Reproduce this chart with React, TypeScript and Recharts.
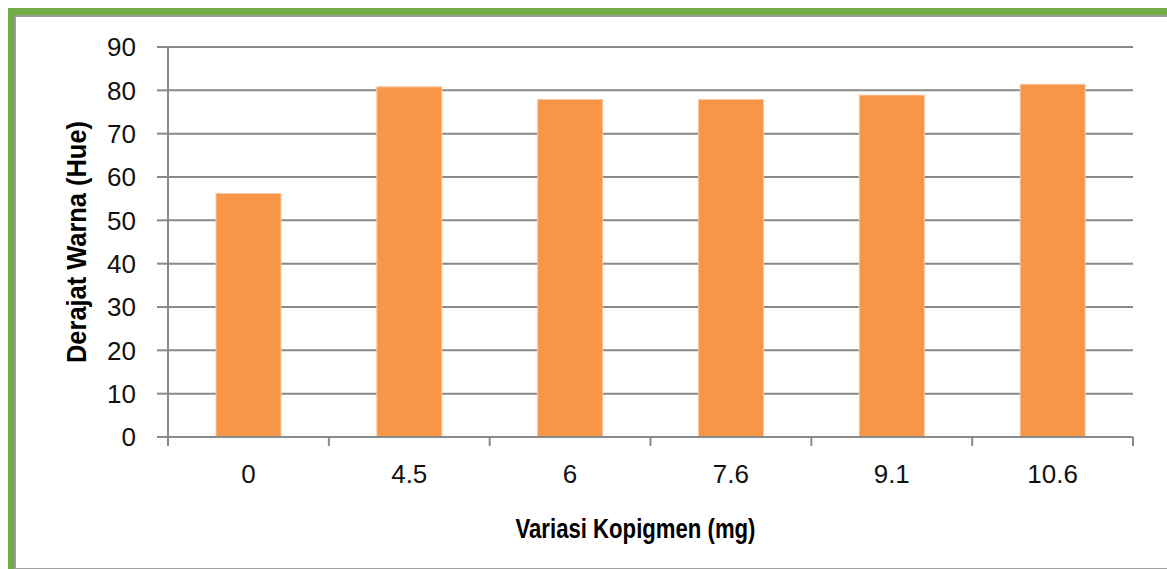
import { BarChart, Bar, XAxis, YAxis, CartesianGrid, Label } from 'recharts'

const categories = ['0', '4.5', '6', '7.6', '9.1', '10.6']
const hueValues = [56.2, 80.8, 77.9, 77.9, 78.9, 81.4]
const yTicks = [0, 10, 20, 30, 40, 50, 60, 70, 80, 90]

const data = categories.map((c, i) => ({ kopigmen: c, hue: hueValues[i] }))

const GRID = '#898989'
const ORANGE = '#F79646'
const GREEN = '#70AD47'
const FONT = "'Liberation Sans', Arial, sans-serif"
const X_TICK = 9

function CategoryTick(props: any) {
  const { x, y, payload, index, visibleTicksCount } = props
  const half = payload?.offset || (1133 - 168) / 6 / 2
  const axisY = y - X_TICK
  const last = index === visibleTicksCount - 1
  return (
    <g>
      <line x1={x - half} x2={x - half} y1={axisY} y2={axisY + X_TICK} stroke={GRID} strokeWidth={2} />
      {last && <line x1={x + half} x2={x + half} y1={axisY} y2={axisY + X_TICK} stroke={GRID} strokeWidth={2} />}
      <text x={x} y={axisY + 46} textAnchor="middle" fill="#111" fontSize={26} fontFamily={FONT}>
        {payload.value}
      </text>
    </g>
  )
}

function YTitle(props: any) {
  const { viewBox } = props
  const cx = 76
  const cy = viewBox.y + viewBox.height / 2
  return (
    <text x={cx} y={cy} transform={`rotate(-90 ${cx} ${cy})`} textAnchor="middle" dominantBaseline="central"
      fontSize={28} fontWeight="bold" fontFamily={FONT} fill="#000" textLength={242} lengthAdjust="spacingAndGlyphs">
      Derajat Warna (Hue)
    </text>
  )
}

function XTitle(props: any) {
  const { viewBox } = props
  const cx = viewBox.x + viewBox.width / 2 - 15
  return (
    <text x={cx} y={528} textAnchor="middle" dominantBaseline="central"
      fontSize={28} fontWeight="bold" fontFamily={FONT} fill="#000" textLength={240} lengthAdjust="spacingAndGlyphs">
      Variasi Kopigmen (mg)
    </text>
  )
}

export default function App() {
  return (
    <div style={{ position: 'absolute', left: 0, top: 0, width: 1167, height: 569, background: '#fff', overflow: 'hidden' }}>
      {/* green frame, top and left, with thin gray inner edge */}
      <div style={{ position: 'absolute', left: 8, top: 8, right: 0, height: 7, background: GREEN }} />
      <div style={{ position: 'absolute', left: 8, top: 8, width: 7, bottom: 0, background: GREEN }} />
      <div style={{ position: 'absolute', left: 15, top: 15, right: 0, height: 1.5, background: '#9a9a9a' }} />
      <div style={{ position: 'absolute', left: 14, top: 15, width: 1.5, bottom: 0, background: '#9a9a9a' }} />
      <div style={{ position: 'absolute', left: 15, bottom: 0, right: 0, height: 1, background: '#a0a0a0' }} />
      <div style={{ position: 'absolute', left: 0, top: 0 }}>
        <BarChart width={1167} height={569} data={data} barSize={65}
          margin={{ top: 47, right: 34, bottom: 82, left: 0 }}>
          <CartesianGrid vertical={false} stroke={GRID} strokeWidth={2} />
          <XAxis dataKey="kopigmen" height={50} tickLine={false} tickSize={X_TICK} tickMargin={0}
            axisLine={{ stroke: GRID, strokeWidth: 2 }} tick={<CategoryTick />} interval={0}>
            <Label content={<XTitle />} />
          </XAxis>
          <YAxis width={168} domain={[0, 90]} ticks={yTicks} interval={0} tickSize={11} tickMargin={21}
            axisLine={{ stroke: GRID, strokeWidth: 2 }} tickLine={{ stroke: GRID, strokeWidth: 2 }}
            tick={{ fill: '#111', fontSize: 26, fontFamily: FONT }}>
            <Label content={<YTitle />} />
          </YAxis>
          <Bar dataKey="hue" fill={ORANGE} stroke="#FAC7A0" strokeWidth={1} isAnimationActive={false} />
        </BarChart>
      </div>
    </div>
  )
}
